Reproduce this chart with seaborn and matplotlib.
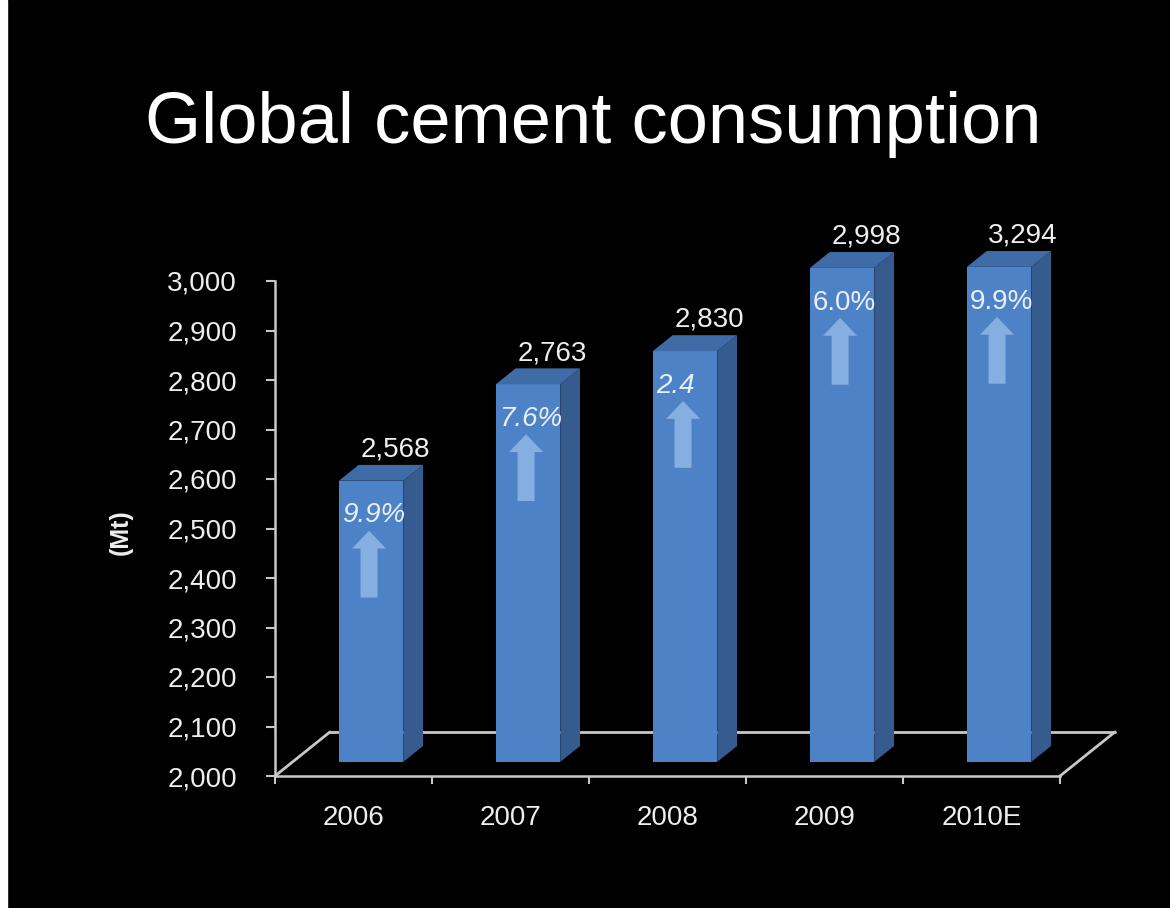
import numpy as np
import pandas as pd
import matplotlib
matplotlib.use("Agg")
import matplotlib.pyplot as plt
import seaborn as sns
from matplotlib.patches import Polygon, Rectangle

# --- data -------------------------------------------------------------
years = ["2006", "2007", "2008", "2009", "2010E"]
consumption_mt = [2568, 2763, 2830, 2998, 3294]
growth_labels = ["9.9%", "7.6%", "2.4", "6.0%", "9.9%"]
growth_italic = [True, True, True, False, False]
y_tick_values = [2000, 2100, 2200, 2300, 2400, 2500, 2600, 2700, 2800, 2900, 3000]

# --- style --------------------------------------------------------------
sns.set_style("dark", {"axes.facecolor": "black", "figure.facecolor": "black"})
plt.rcParams["font.family"] = ["Liberation Sans", "DejaVu Sans"]

FRONT = "#4e82c6"
SIDE = "#365c8f"
TOP = "#3f6ba6"
ARROW = "#8fb6e6"
AXIS = "#c8c8c8"
TEXT = "#eeeeee"

YMIN, YMAX = 2000, 3000
BAR_W = 0.41
# oblique depth vector of the floor, in data units (x: categories, y: Mt)
DX, DY = 0.35, 89.0
Z0, Z1 = 0.32, 0.68  # front / back depth of the bars inside the floor

fig = plt.figure(figsize=(11.7, 9.08), dpi=100, facecolor="black")
ax = fig.add_axes([275 / 1170, 1 - 776 / 908, 785 / 1170, 495 / 908])
ax.set_facecolor("black")

df = pd.DataFrame({"year": years, "mt": consumption_mt})
sns.barplot(data=df, x="year", y="mt", ax=ax, width=BAR_W, color=FRONT,
            saturation=1, edgecolor="none", zorder=3)

ax.set_xlim(-0.5, len(years) - 0.5)
ax.set_ylim(YMIN, YMAX)

# floor outline (front edge is the x axis spine)
x_lo, x_hi = -0.5, len(years) - 0.5
floor_kw = dict(color=AXIS, lw=2.0, clip_on=False, zorder=1, solid_capstyle="round")
ax.plot([x_lo + DX, x_hi + DX], [YMIN + DY, YMIN + DY], **floor_kw)
ax.plot([x_lo, x_lo + DX], [YMIN, YMIN + DY], **floor_kw)
ax.plot([x_hi, x_hi + DX], [YMIN, YMIN + DY], **floor_kw)

dd_x = (Z1 - Z0) * DX
for i, (p, v) in enumerate(zip(ax.patches, consumption_mt)):
    top = min(v, YMAX)
    xl = p.get_x()
    w = p.get_width()
    # front face, pushed into the floor
    p.set_x(xl + Z0 * DX)
    p.set_y(YMIN + Z0 * DY)
    p.set_height(top - YMIN)
    p.set_clip_on(False)
    xl0 = xl + Z0 * DX
    xr0 = xl0 + w
    # side face
    side = Polygon([(xr0, YMIN + Z0 * DY), (xr0 + dd_x, YMIN + Z1 * DY),
                    (xr0 + dd_x, top + Z1 * DY), (xr0, top + Z0 * DY)],
                   closed=True, fc=SIDE, ec="none", zorder=2.5, clip_on=False)
    ax.add_patch(side)
    # top face
    lid = Polygon([(xl0, top + Z0 * DY), (xr0, top + Z0 * DY),
                   (xr0 + dd_x, top + Z1 * DY), (xl0 + dd_x, top + Z1 * DY)],
                  closed=True, fc=TOP, ec="none", zorder=3.5, clip_on=False)
    ax.add_patch(lid)

    # value label above the bar
    ax.annotate(f"{v:,}", xy=(xl0 + w / 2 + dd_x, top + Z1 * DY),
                xytext=(3, 6), textcoords="offset points",
                ha="center", va="baseline", fontsize=20, color=TEXT,
                annotation_clip=False, zorder=6)

    # growth label and arrow on the front face
    ax.annotate(growth_labels[i], xy=(xl0, top + Z0 * DY),
                xytext=(2, -30), textcoords="offset points",
                ha="left", va="baseline", fontsize=20, color="#e8f0ff",
                style="italic" if growth_italic[i] else "normal",
                annotation_clip=False, zorder=6)
    cx = xl0 + w / 2 - 0.013
    tail = top + Z0 * DY - 236
    ax.arrow(cx, tail, 0, 135, width=0.108, head_width=0.217, head_length=36,
             length_includes_head=True, fc=ARROW, ec="none", alpha=0.85,
             zorder=5, clip_on=False)

# axes
for s in ["top", "right"]:
    ax.spines[s].set_visible(False)
for s in ["left", "bottom"]:
    ax.spines[s].set_visible(True)
    ax.spines[s].set_color(AXIS)
    ax.spines[s].set_linewidth(1.8)
    ax.spines[s].set_zorder(4)

ax.set_yticks(y_tick_values)
ax.set_yticklabels([f"{t:,}" for t in y_tick_values])
ax.tick_params(axis="y", which="major", length=6.5, width=1.5, color=AXIS,
               pad=21, labelsize=20, labelcolor=TEXT, left=True, direction="out")

ax.set_xticks(range(len(years)))
ax.set_xticklabels(years)
ax.set_xticks(np.arange(len(years) + 1) - 0.5, minor=True)
ax.tick_params(axis="x", which="major", length=0, pad=21, labelsize=20,
               labelcolor=TEXT)
ax.tick_params(axis="x", which="minor", length=5.5, width=1.5, color=AXIS,
               bottom=True, direction="out")
ax.grid(False)
ax.set_xlabel("")
ax.set_ylabel("(Mt)", fontsize=18, fontweight="bold", color=TEXT)
ax.yaxis.set_label_coords(-0.181, 0.493)

fig.text(0.507, 1 - 143 / 908, "Global cement consumption", fontsize=52,
         color="white", ha="center", va="baseline")

# white strip along the left edge
fig.patches.append(Rectangle((0, 0), 7 / 1170, 1, transform=fig.transFigure,
                             color="white", zorder=10))

fig.savefig("out.png", dpi=100, facecolor="black")
